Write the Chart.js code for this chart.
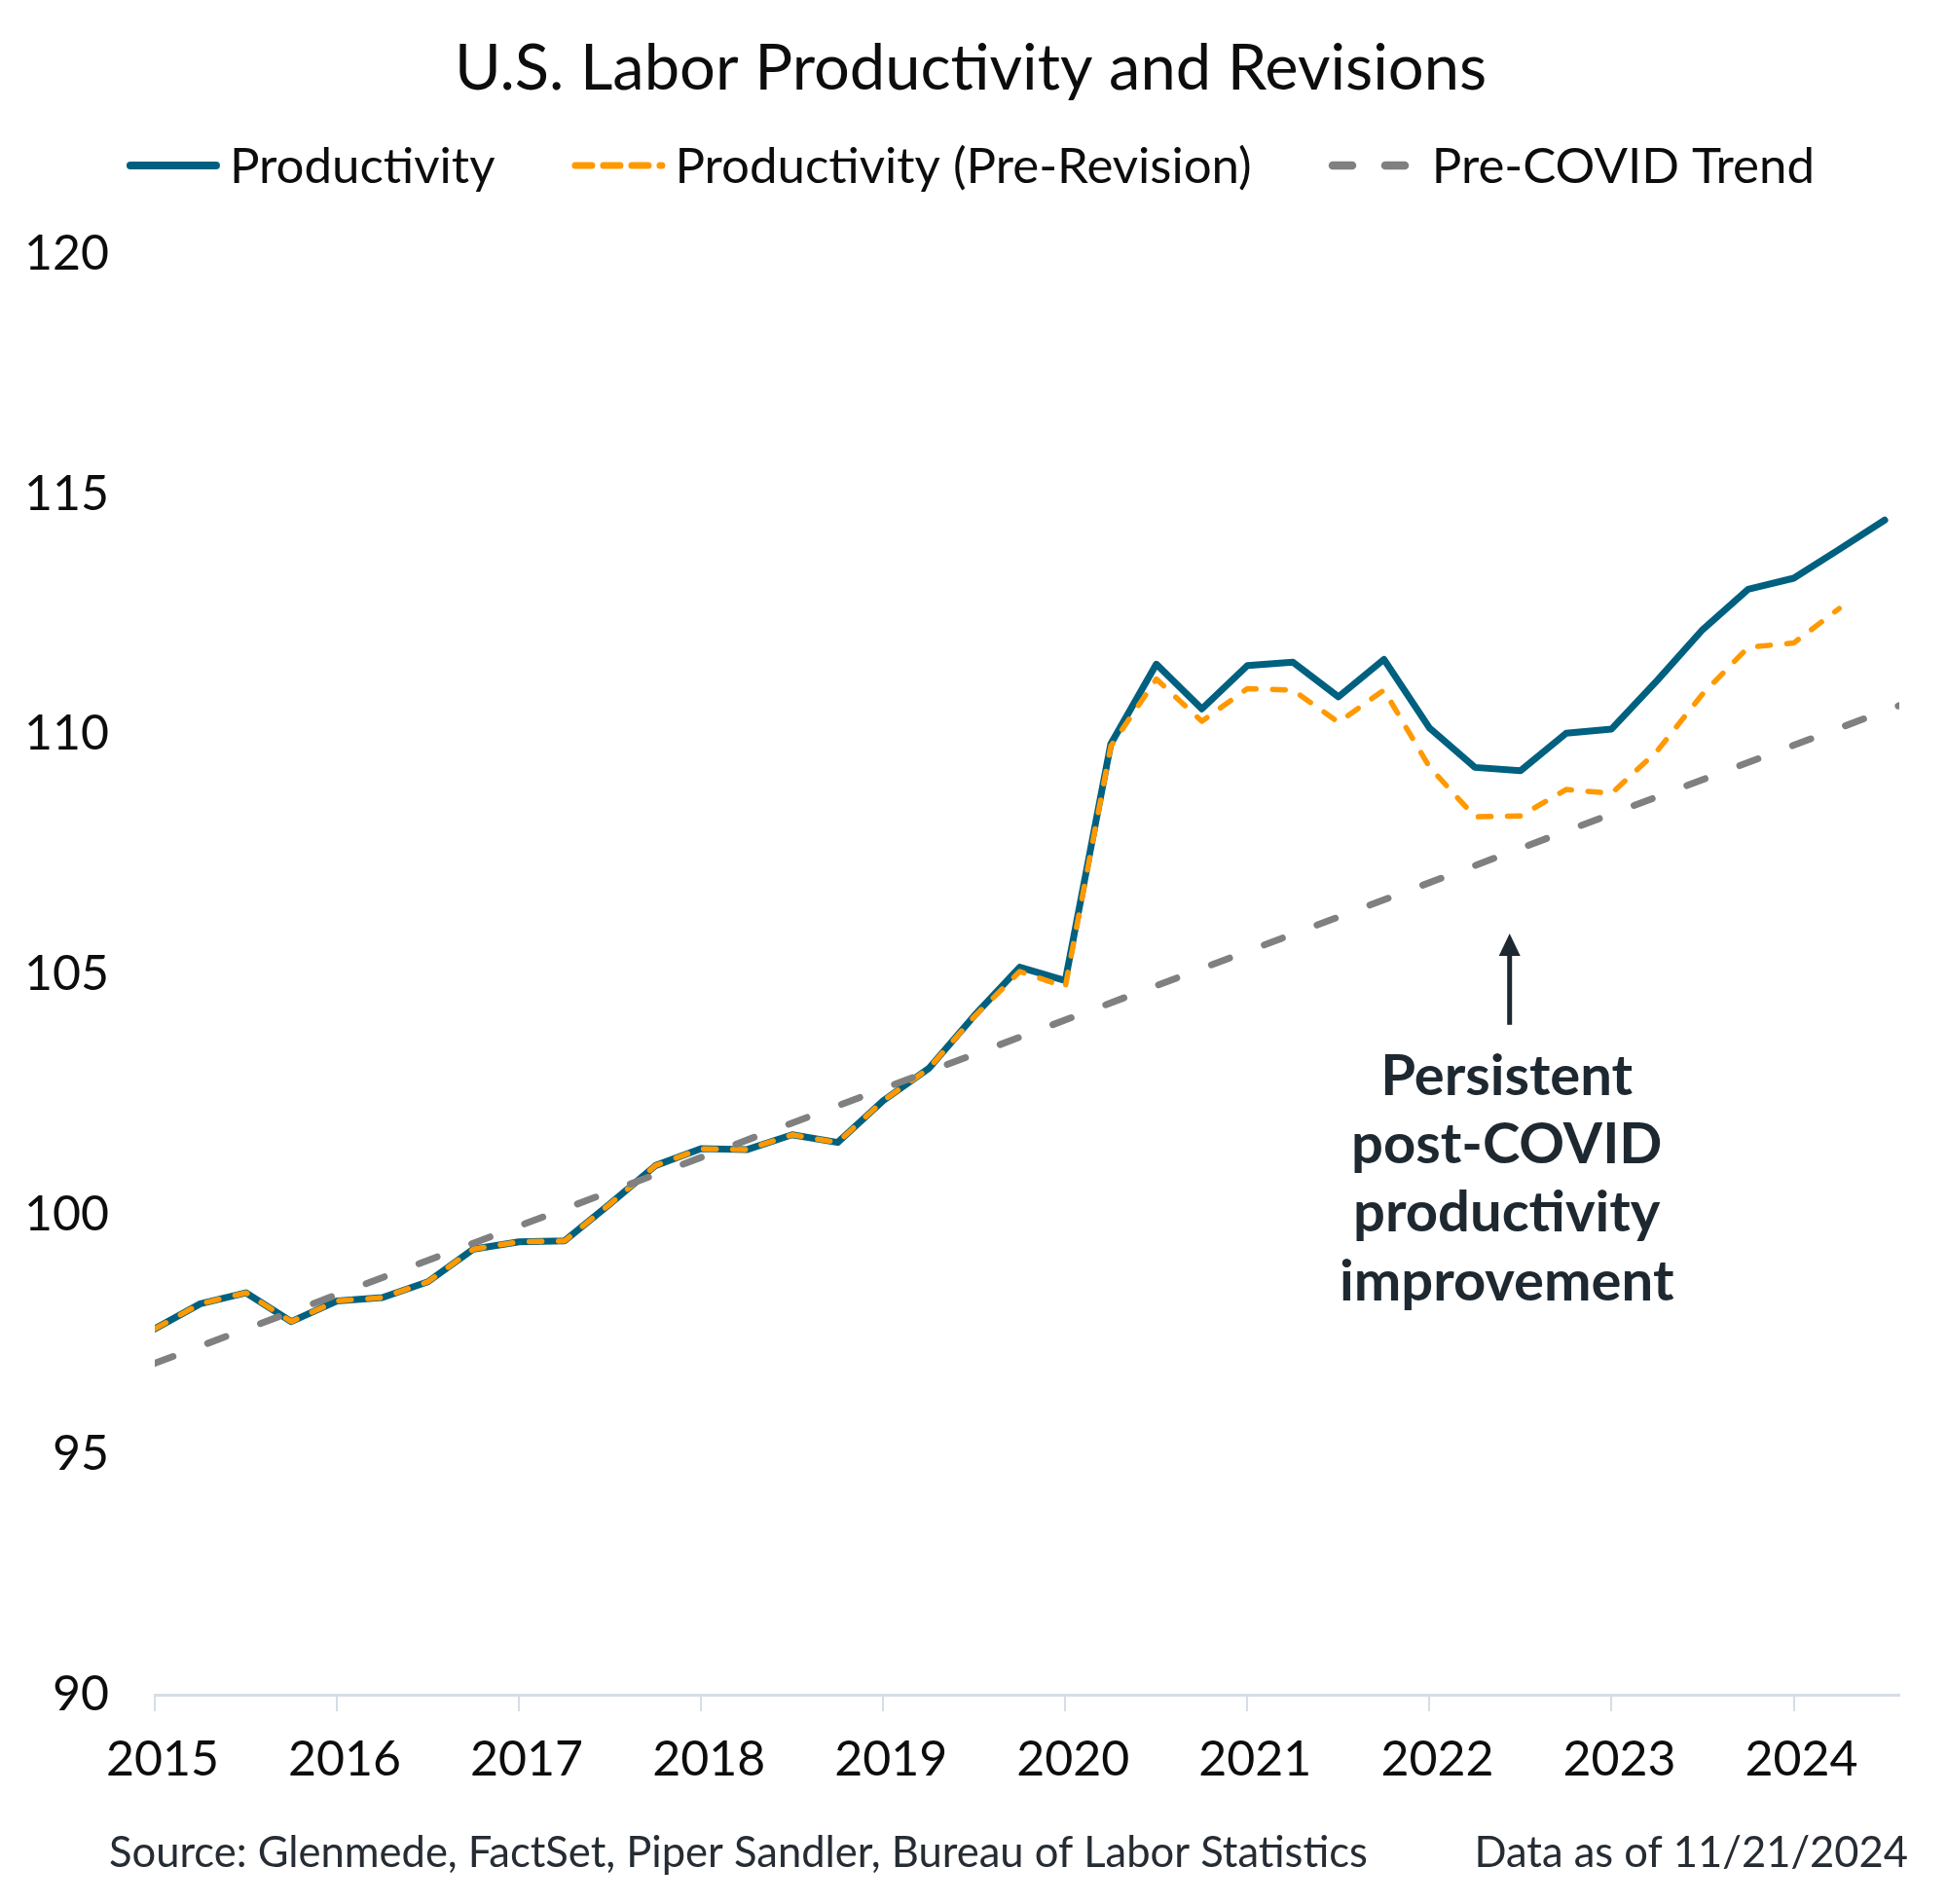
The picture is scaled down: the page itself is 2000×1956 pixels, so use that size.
<!DOCTYPE html>
<html lang="en">
  <head>
    <meta charset="UTF-8" />
    <title>U.S. Labor Productivity and Revisions</title>
    <style>
      html, body { margin: 0; padding: 0; background: #fff; }
      #chart-box { width: 2000px; height: 1956px; }
    </style>
  </head>
  <body>
    <div id="chart-box"><canvas id="myChart" width="2000" height="1956"></canvas></div>
    <script src="https://cdn.jsdelivr.net/npm/chart.js"></script>
    <script>
      // quarterly observations, 2015 Q1 .. 2024 Q3
      const quarters = [
        '2015Q1', '2015Q2', '2015Q3', '2015Q4', '2016Q1', '2016Q2', '2016Q3', '2016Q4',
        '2017Q1', '2017Q2', '2017Q3', '2017Q4', '2018Q1', '2018Q2', '2018Q3', '2018Q4',
        '2019Q1', '2019Q2', '2019Q3', '2019Q4', '2020Q1', '2020Q2', '2020Q3', '2020Q4',
        '2021Q1', '2021Q2', '2021Q3', '2021Q4', '2022Q1', '2022Q2', '2022Q3', '2022Q4',
        '2023Q1', '2023Q2', '2023Q3', '2023Q4', '2024Q1', '2024Q2', '2024Q3'
      ]
      const productivity = [
        97.62, 98.14, 98.37, 97.77, 98.20, 98.27, 98.60, 99.28,
        99.43, 99.45, 100.22, 101.02, 101.37, 101.35, 101.66, 101.50,
        102.37, 103.04, 104.14, 105.15, 104.87, 109.80, 111.46, 110.53,
        111.43, 111.50, 110.78, 111.56, 110.13, 109.31, 109.24, 110.02,
        110.11, 111.12, 112.18, 113.02, 113.25, 113.85, 114.46
      ]
      const preRevision = [
        97.62, 98.14, 98.37, 97.77, 98.20, 98.27, 98.60, 99.28,
        99.43, 99.45, 100.22, 101.02, 101.37, 101.35, 101.66, 101.50,
        102.37, 103.04, 104.12, 105.06, 104.74, 109.75, 111.15, 110.27,
        110.95, 110.92, 110.25, 110.92, 109.32, 108.28, 108.30, 108.85,
        108.77, 109.65, 110.84, 111.81, 111.90, 112.62
      ]
      // pre-COVID trend line end points
      const trendYears = [2015.0, 2024.58]
      const trendValues = [96.9, 110.6]

      const yTicks = { min: 90, max: 120, step: 5 }
      const xRange = { min: 2015, max: 2024.58 }

      const titleText = 'U.S. Labor Productivity and Revisions'
      const sourceText = 'Source: Glenmede, FactSet, Piper Sandler, Bureau of Labor Statistics'
      const asOfText = 'Data as of 11/21/2024'
      const noteLines = ['Persistent', 'post-COVID', 'productivity', 'improvement']
      const noteAt = { x: 2022.44, tip: 105.85, base: 103.95 }

      const toYear = (q) => Number(q.slice(0, 4)) + (Number(q.slice(5)) - 1) / 4
      const toPoints = (vals) => vals.map((v, i) => ({ x: toYear(quarters[i]), y: v }))

      const BLUE = '#00607f'
      const ORANGE = '#ff9900'
      const GREY = '#808080'
      const INK = '#0d0d0d'

      const legendItems = [
        { text: 'Productivity', color: BLUE, width: 8, dash: [] },
        { text: 'Productivity (Pre-Revision)', color: ORANGE, width: 7, dash: [17, 12] },
        { text: 'Pre-COVID Trend', color: GREY, width: 8.5, dash: [20, 34] }
      ]

      const decor = {
        id: 'decor',
        afterDraw(chart) {
          const { ctx, scales } = chart
          ctx.save()

          // title
          ctx.fillStyle = INK
          ctx.textAlign = 'center'
          ctx.textBaseline = 'alphabetic'
          ctx.font = '65px Lato'
          ctx.fillText(titleText, 997, 92)

          // legend
          ctx.font = '51px Lato'
          const lineLen = 96
          const textGap = 10
          const itemGap = 79
          const widths = legendItems.map((it) => lineLen + textGap + ctx.measureText(it.text).width)
          const total = widths.reduce((a, b) => a + b, 0) + itemGap * (legendItems.length - 1)
          let lx = 997 - total / 2
          const ly = 170
          legendItems.forEach((it, i) => {
            ctx.beginPath()
            ctx.lineCap = 'round'
            ctx.lineWidth = it.width
            ctx.strokeStyle = it.color
            ctx.setLineDash(it.dash)
            ctx.moveTo(lx + it.width / 2, ly)
            ctx.lineTo(lx + lineLen - it.width / 2, ly)
            ctx.stroke()
            ctx.setLineDash([])
            ctx.fillStyle = INK
            ctx.textAlign = 'left'
            ctx.fillText(it.text, lx + lineLen + textGap, 188)
            lx += widths[i] + itemGap
          })

          // arrow annotation
          const ax = scales.x.getPixelForValue(noteAt.x)
          const tipY = scales.y.getPixelForValue(noteAt.tip)
          const baseY = scales.y.getPixelForValue(noteAt.base)
          ctx.strokeStyle = '#1e2830'
          ctx.fillStyle = '#1e2830'
          ctx.lineWidth = 5
          ctx.lineCap = 'butt'
          ctx.beginPath()
          ctx.moveTo(ax, baseY)
          ctx.lineTo(ax, tipY + 20)
          ctx.stroke()
          ctx.beginPath()
          ctx.moveTo(ax, tipY)
          ctx.lineTo(ax - 11, tipY + 23)
          ctx.lineTo(ax + 11, tipY + 23)
          ctx.closePath()
          ctx.fill()

          ctx.font = 'bold 58px Lato'
          ctx.textAlign = 'center'
          noteLines.forEach((t, i) => {
            ctx.fillText(t, ax - 3, baseY + 72 + i * 70.3)
          })

          // footer
          ctx.font = '43.5px Lato'
          ctx.fillStyle = '#262c33'
          ctx.textAlign = 'left'
          ctx.fillText(sourceText, 112, 1918)
          ctx.textAlign = 'right'
          ctx.fillText(asOfText, 1960, 1918)

          ctx.restore()
        }
      }

      const ctx = document.getElementById('myChart')
      const myChart = new Chart(ctx, {
        type: 'line',
        data: {
          datasets: [
            {
              label: 'Productivity',
              data: toPoints(productivity),
              borderColor: BLUE,
              borderWidth: 7,
              borderCapStyle: 'round',
              borderJoinStyle: 'round',
              pointRadius: 0,
              tension: 0,
              order: 2
            },
            {
              label: 'Productivity (Pre-Revision)',
              data: toPoints(preRevision),
              borderColor: ORANGE,
              borderWidth: 5.5,
              borderDash: [13, 17],
              borderCapStyle: 'round',
              borderJoinStyle: 'round',
              pointRadius: 0,
              tension: 0,
              order: 1
            },
            {
              label: 'Pre-COVID Trend',
              data: trendYears.map((x, i) => ({ x: x, y: trendValues[i] })),
              borderColor: GREY,
              borderWidth: 7,
              borderDash: [20, 38],
              borderCapStyle: 'round',
              pointRadius: 0,
              tension: 0,
              order: 0
            }
          ]
        },
        options: {
          responsive: false,
          animation: false,
          devicePixelRatio: 1,
          layout: { padding: { top: 261, right: 49, bottom: 115, left: 0 } },
          plugins: {
            legend: { display: false },
            title: { display: false },
            tooltip: { enabled: false }
          },
          scales: {
            x: {
              type: 'linear',
              min: xRange.min,
              max: xRange.max,
              afterFit: (s) => { s.height = 100 },
              grid: {
                display: true,
                drawOnChartArea: false,
                drawTicks: true,
                tickLength: 17,
                color: '#d6dde6',
                lineWidth: 2
              },
              border: { display: true, color: '#d6dde6', width: 3 },
              ticks: {
                stepSize: 1,
                includeBounds: false,
                autoSkip: false,
                maxRotation: 0,
                padding: 20,
                labelOffset: 8,
                color: INK,
                font: { family: 'Lato', size: 50 },
                callback: (v) => String(v)
              }
            },
            y: {
              min: yTicks.min,
              max: yTicks.max,
              afterFit: (s) => { s.width = 159 },
              grid: { display: false, drawTicks: false },
              border: { display: false },
              ticks: {
                stepSize: yTicks.step,
                padding: 47,
                color: INK,
                font: { family: 'Lato', size: 50 }
              }
            }
          }
        },
        plugins: [decor]
      })
    </script>
  </body>
</html>
